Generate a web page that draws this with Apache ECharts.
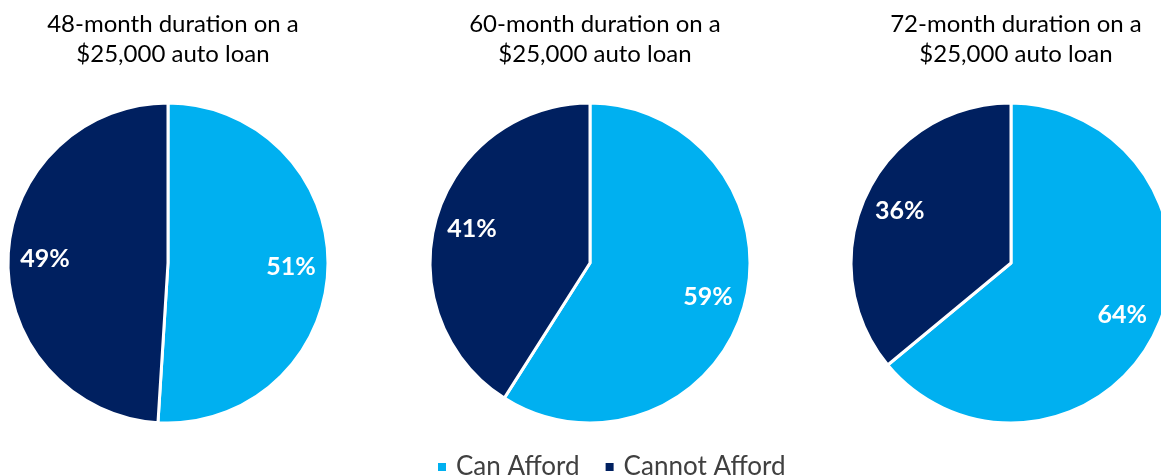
<!DOCTYPE html>
<html><head><meta charset="utf-8">
<script src="https://cdn.jsdelivr.net/npm/echarts@6/dist/echarts.min.js"></script>
<style>html,body{margin:0;padding:0;background:#fff}#c{width:1161px;height:476px}</style>
</head><body><div id="c"></div>
<script>
const categories = ['Can Afford', 'Cannot Afford'];
const titles = ['48-month duration on a\n$25,000 auto loan', '60-month duration on a\n$25,000 auto loan', '72-month duration on a\n$25,000 auto loan'];
const canAfford = [51, 59, 64];
const cannotAfford = [49, 41, 36];
const colors = ['#00B0F0', '#002060'];
const centersX = [168, 590, 1011];

const chart = echarts.init(document.getElementById('c'));
const series = [];
const title = [];
for (let i = 0; i < 3; i++) {
  const data = [
    {name: categories[0], value: canAfford[i]},
    {name: categories[1], value: cannotAfford[i]}
  ];
  title.push({
    text: titles[i], left: centersX[i], top: 4, textAlign: 'center',
    textStyle: {fontFamily: 'Lato', fontSize: 24, fontWeight: 'normal', color: '#000', lineHeight: 30}
  });
  series.push({
    type: 'pie', center: [centersX[i], 263], radius: [0, 160], startAngle: 90, clockwise: true,
    label: {show: false}, labelLine: {show: false}, silent: true, animation: false,
    itemStyle: {borderColor: '#fff', borderWidth: 3},
    data: data
  });
  series.push({
    type: 'pie', center: [centersX[i], 263], radius: [80, 160], startAngle: 90, clockwise: true,
    silent: true, animation: false, legendHoverLink: false,
    itemStyle: {color: 'rgba(0,0,0,0)', borderWidth: 0},
    label: {show: true, position: 'inside', formatter: '{c}%', color: '#fff', fontFamily: 'Lato', fontWeight: 'bold', fontSize: 25},
    labelLine: {show: false},
    data: data.map(d => ({name: d.name + ' ', value: d.value}))
  });
}
chart.setOption({
  color: colors,
  title: title,
  legend: {
    data: categories, top: 449, left: 431, itemWidth: 10, itemHeight: 10, itemGap: 24,
    icon: 'rect', textStyle: {fontFamily: 'Lato', fontSize: 26, color: '#404040', padding: [0, 0, 0, 4]}
  },
  series: series
});
</script></body></html>
